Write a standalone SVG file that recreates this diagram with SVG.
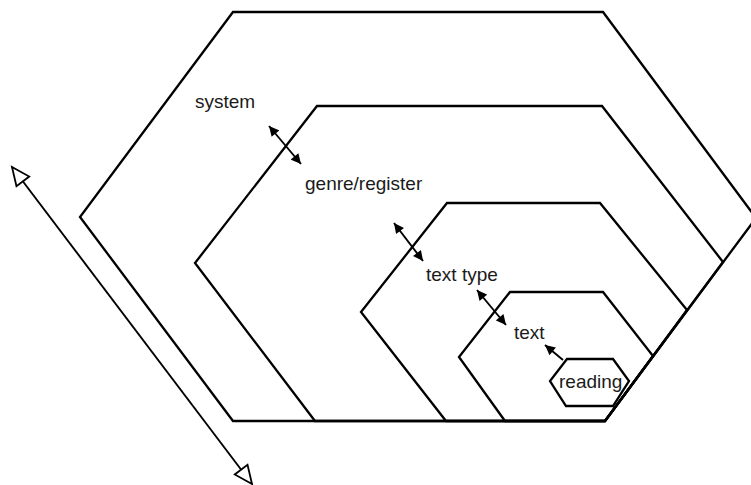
<svg xmlns="http://www.w3.org/2000/svg" width="751" height="485" viewBox="0 0 751 485">
  <style>
    .hex { fill: none; stroke: #000; stroke-width: 2.3; stroke-linejoin: miter; }
    .lbl { font-family: "Liberation Sans", Arial, sans-serif; font-size: 19px; fill: #1a1a1a; }
    .link { stroke: #000; stroke-width: 1.9; fill: none; }
  </style>
  <defs>
    <marker id="solidHead" viewBox="0 0 10 10" refX="10" refY="5" markerWidth="11" markerHeight="10" markerUnits="userSpaceOnUse" orient="auto-start-reverse">
      <path d="M0,0 L10,5 L0,10 Z" fill="#000"/>
    </marker>
    <marker id="openHead" viewBox="0 0 22 20" refX="20" refY="10" markerWidth="22" markerHeight="20" markerUnits="userSpaceOnUse" orient="auto-start-reverse" overflow="visible">
      <path d="M2,2 L20,10 L2,18 Z" fill="#fff" stroke="#000" stroke-width="1.8" stroke-linejoin="miter"/>
    </marker>
  </defs>
  <rect width="751" height="485" fill="#fff"/>

  <!-- nested levels, outermost first -->
  <g id="system">
    <path class="hex" d="M233,12 L603,12 L756,218 L605,421 L233,421 L80,217 Z"/>
    <text class="lbl" x="195" y="108">system</text>
  </g>
  <g id="genre-register">
    <path class="hex" d="M317,106 L602,106 L723,262 L605,421 L315,421 L195,263 Z"/>
    <text class="lbl" x="305" y="190">genre/register</text>
  </g>
  <g id="text-type">
    <path class="hex" d="M447,203 L600,203 L687,310 L605,421 L446,421 L361,312 Z"/>
    <text class="lbl" x="426" y="281">text type</text>
  </g>
  <g id="text">
    <path class="hex" d="M510,292 L603,292 L653,356 L605,421 L505,421 L459,357 Z"/>
    <text class="lbl" x="514" y="339">text</text>
  </g>
  <g id="reading">
    <path class="hex" d="M567,359 L613,359 L629,381 L613,406 L566,406 L550,381 Z"/>
    <text class="lbl" x="559" y="388">reading</text>
  </g>

  <g id="connectors">
    <line class="link" x1="269" y1="126" x2="301" y2="164" marker-start="url(#solidHead)" marker-end="url(#solidHead)"/>
    <line class="link" x1="394" y1="223" x2="423" y2="261" marker-start="url(#solidHead)" marker-end="url(#solidHead)"/>
    <line class="link" x1="477" y1="290" x2="506" y2="325" marker-start="url(#solidHead)" marker-end="url(#solidHead)"/>
    <line class="link" x1="563" y1="360" x2="545" y2="345" marker-end="url(#solidHead)"/>
    <!-- scale arrow on the left -->
    <line class="link" x1="12" y1="167" x2="252" y2="484" stroke-width="1.6" marker-start="url(#openHead)" marker-end="url(#openHead)"/>
  </g>
</svg>
